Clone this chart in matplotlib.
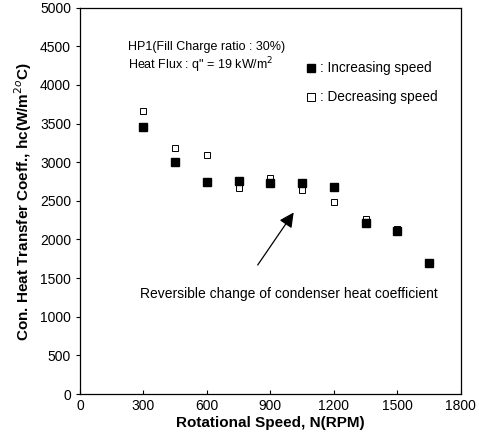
import matplotlib
matplotlib.use("Agg")
import matplotlib.pyplot as plt

plt.rcParams['font.family'] = ['Liberation Sans', 'DejaVu Sans']

speed = [300, 450, 600, 750, 900, 1050, 1200, 1350, 1500, 1650]
hc_increasing = [3460, 3000, 2750, 2760, 2730, 2730, 2680, 2210, 2110, 1700]
hc_decreasing = [3660, 3190, 3090, 2670, 2800, 2640, 2480, 2260, 2130, 1700]
x_ticks = [0, 300, 600, 900, 1200, 1500, 1800]
y_ticks = [0, 500, 1000, 1500, 2000, 2500, 3000, 3500, 4000, 4500, 5000]

fig = plt.figure(figsize=(4.79, 4.45), dpi=100)
ax = fig.add_axes([0.167, 0.1146, 0.795, 0.868])

ax.plot(speed, hc_decreasing, linestyle='none', marker='s', markersize=5,
        markerfacecolor='white', markeredgecolor='black', markeredgewidth=0.7)
ax.plot(speed, hc_increasing, linestyle='none', marker='s', markersize=5.5,
        markerfacecolor='black', markeredgecolor='black')

ax.set_xlim(0, 1800)
ax.set_ylim(0, 5000)
ax.set_xticks(x_ticks)
ax.set_yticks(y_ticks)
ax.tick_params(axis='both', labelsize=10, length=3, width=0.8)
ax.tick_params(axis='x', direction='in')
ax.tick_params(axis='y', direction='out')
for s in ax.spines.values():
    s.set_linewidth(0.9)

ax.set_xlabel('Rotational Speed, N(RPM)', fontsize=11, fontweight='bold', labelpad=2)
ax.set_ylabel('Con. Heat Transfer Coeff., hc(W/m$^2$$^o$C)', fontsize=11,
              fontweight='bold', labelpad=4)

ax.text(227, 4490, 'HP1(Fill Charge ratio : 30%)', fontsize=9, va='center')
ax.text(227, 4260, 'Heat Flux : q" = 19 kW/m$^2$', fontsize=9, va='center')

ax.plot([1091], [4215], linestyle='none', marker='s', markersize=5.5,
        markerfacecolor='black', markeredgecolor='black')
ax.text(1135, 4215, ': Increasing speed', fontsize=9.8, va='center')
ax.plot([1091], [3845], linestyle='none', marker='s', markersize=5.5,
        markerfacecolor='white', markeredgecolor='black', markeredgewidth=0.7)
ax.text(1135, 3845, ': Decreasing speed', fontsize=9.8, va='center')

ax.annotate('', xy=(1010, 2350), xytext=(840, 1670),
            arrowprops=dict(arrowstyle='-|>', color='black', lw=0.9,
                            mutation_scale=22, shrinkA=0, shrinkB=0))
ax.text(985, 1300, 'Reversible change of condenser heat coefficient',
        fontsize=10, ha='center', va='center')

fig.savefig('out.png', dpi=100)
